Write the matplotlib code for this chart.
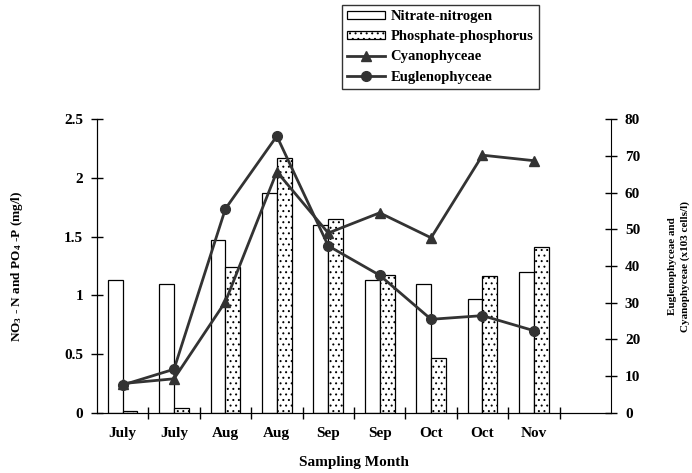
import numpy as np
import matplotlib
matplotlib.use("Agg")
import matplotlib.pyplot as plt
from matplotlib.patches import Patch
from matplotlib.lines import Line2D

plt.rcParams["font.family"] = ["Liberation Serif", "DejaVu Serif"]
plt.rcParams["font.weight"] = "bold"
plt.rcParams["axes.labelweight"] = "bold"
plt.rcParams["mathtext.fontset"] = "custom"
plt.rcParams["mathtext.rm"] = "Liberation Serif:bold"
plt.rcParams["mathtext.bf"] = "Liberation Serif:bold"
plt.rcParams["mathtext.default"] = "bf"
plt.rcParams["hatch.linewidth"] = 0.7

months = ["July", "July", "Aug", "Aug", "Sep", "Sep", "Oct", "Oct", "Nov"]
nitrate = [1.13, 1.10, 1.47, 1.87, 1.60, 1.13, 1.10, 0.97, 1.20]
phosphate = [0.02, 0.04, 1.24, 2.17, 1.65, 1.17, 0.47, 1.165, 1.41]
cyano = [8.0, 9.3, 30.3, 65.7, 49.0, 54.5, 47.7, 70.2, 68.7]
eugleno = [7.6, 11.9, 55.6, 75.4, 45.5, 37.5, 25.5, 26.5, 22.4]

x = np.arange(len(months))
w = 0.29
line_col = "#333333"
dots = "..."

fig = plt.figure(figsize=(6.92, 4.73), dpi=100)
ax = fig.add_axes([0.140, 0.127, 0.743, 0.621])

ax.bar(x - w / 2, nitrate, w, color="white", edgecolor="black", linewidth=0.9)
ax.bar(x + w / 2, phosphate, w, color="white", edgecolor="black", linewidth=0.9, hatch=dots)
ax.set_xlim(-0.5, 9.5)
ax.set_ylim(0, 2.5)
ax.set_yticks([0, 0.5, 1, 1.5, 2, 2.5])
ax.set_yticklabels(["0", "0.5", "1", "1.5", "2", "2.5"])
ax.tick_params(axis="y", direction="inout", length=8, width=1, labelsize=11, pad=6)

# category boundaries as major ticks, labels on minor ticks
ax.set_xticks(np.arange(0.5, 9, 1.0))
ax.set_xticklabels([])
ax.set_xticks(x, minor=True)
ax.set_xticklabels(months, minor=True)
ax.tick_params(axis="x", which="major", direction="inout", length=8, width=1)
ax.tick_params(axis="x", which="minor", length=0, labelsize=11, pad=10)
ax.spines["top"].set_visible(False)
ax.spines["right"].set_visible(False)

ax.set_ylabel(r"NO$_3$ - N and PO$_4$ -P (mg/l)", fontsize=9.5, labelpad=28)
ax.set_xlabel("Sampling Month", fontsize=11, labelpad=12)

ax2 = ax.twinx()
ax2.plot(x, cyano, color=line_col, linewidth=2, marker="^", markersize=7)
ax2.plot(x, eugleno, color=line_col, linewidth=2, marker="o", markersize=7)
ax2.set_ylim(0, 80)
ax2.set_yticks(range(0, 81, 10))
ax2.tick_params(axis="y", direction="inout", length=8, width=1, labelsize=11, pad=6)
ax2.spines["top"].set_visible(False)
ax2.set_ylabel("Euglenophyceae and\nCyanophyceae (x103 cells/l)", fontsize=8,
               rotation=90, labelpad=20, linespacing=1.4)

handles = [
    Patch(facecolor="white", edgecolor="black", linewidth=0.9),
    Patch(facecolor="white", edgecolor="black", linewidth=0.9, hatch=dots),
    Line2D([], [], color=line_col, linewidth=2, marker="^", markersize=7),
    Line2D([], [], color=line_col, linewidth=2, marker="o", markersize=7),
]
labels = ["Nitrate-nitrogen", "Phosphate-phosphorus", "Cyanophyceae", "Euglenophyceae"]
leg = fig.legend(handles, labels, loc="upper center", bbox_to_anchor=(0.636, 0.996),
                 fontsize=10.5, frameon=True, fancybox=False, edgecolor="black",
                 handlelength=2.6, handleheight=0.5, handletextpad=0.4,
                 labelspacing=0.5, borderpad=0.35, borderaxespad=0.2)
leg.get_frame().set_linewidth(1)

fig.savefig("out.png", dpi=100)
